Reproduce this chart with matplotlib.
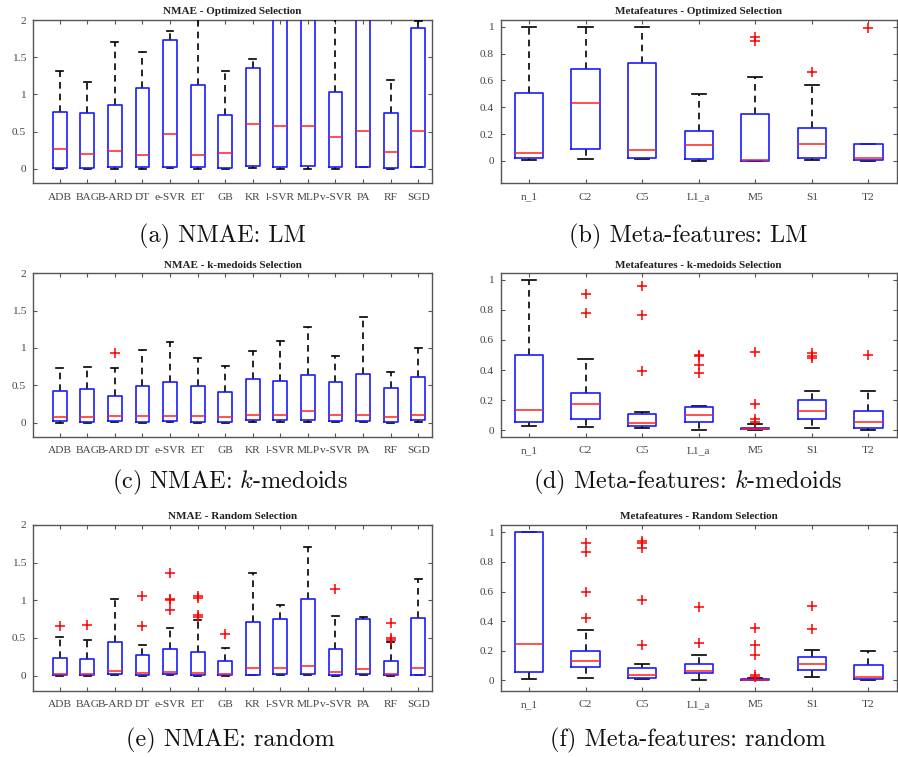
import matplotlib
matplotlib.use("Agg")
import matplotlib.pyplot as plt

plt.rcParams['mathtext.fontset'] = 'cm'

# ---------------- data ----------------
models = ['ADB', 'BAG', 'B-ARD', 'DT', 'e-SVR', 'ET', 'GB', 'KR', 'l-SVR', 'MLP', 'v-SVR', 'PA', 'RF', 'SGD']
metafeats = ['n_1', 'C2', 'C5', 'L1_a', 'M5', 'S1', 'T2']

# (a) NMAE - Optimized Selection
a_q1 = [0.01, 0.01, 0.03, 0.03, 0.02, 0.02, 0.01, 0.04, 0.03, 0.045, 0.03, 0.03, 0.01, 0.03]
a_med = [0.27, 0.20, 0.24, 0.19, 0.47, 0.19, 0.215, 0.60, 0.58, 0.58, 0.425, 0.505, 0.23, 0.505]
a_q3 = [0.77, 0.75, 0.855, 1.09, 1.73, 1.13, 0.73, 1.36, 2.6, 2.6, 1.03, 2.6, 0.755, 1.89]
a_wlo = [0, 0, 0, 0, 0.01, 0, 0, 0.01, 0, 0, 0, 0.02, 0, 0.02]
a_whi = [1.32, 1.17, 1.70, 1.575, 1.85, 2.6, 1.31, 1.47, 3.0, 3.0, 2.6, 3.0, 1.195, 1.99]
a_fl = [[] for _ in models]

# (b) Metafeatures - Optimized Selection
b_q1 = [0.02, 0.092, 0.02, 0.012, 0.0, 0.025, 0.007]
b_med = [0.062, 0.432, 0.082, 0.122, 0.005, 0.129, 0.022]
b_q3 = [0.504, 0.687, 0.727, 0.226, 0.352, 0.248, 0.124]
b_wlo = [0.005, 0.015, 0.015, 0.0, 0.0, 0.007, 0.0]
b_whi = [1.0, 1.0, 1.0, 0.499, 0.628, 0.566, 0.124]
b_fl = [[], [], [], [], [0.896, 0.926], [0.66], [0.993]]

# (c) NMAE - k-medoids Selection
c_q1 = [0.018, 0.005, 0.018, 0.005, 0.018, 0.005, 0.005, 0.031, 0.031, 0.04, 0.018, 0.018, 0.005, 0.04]
c_med = [0.08, 0.08, 0.094, 0.094, 0.094, 0.094, 0.08, 0.107, 0.107, 0.148, 0.107, 0.107, 0.08, 0.107]
c_q3 = [0.416, 0.456, 0.353, 0.488, 0.541, 0.488, 0.403, 0.586, 0.555, 0.635, 0.541, 0.649, 0.461, 0.608]
c_wlo = [0, 0, 0.005, 0, 0.005, 0, 0, 0.005, 0.005, 0.005, 0.005, 0.005, 0, 0.005]
c_whi = [0.734, 0.747, 0.734, 0.97, 1.074, 0.864, 0.756, 0.953, 1.087, 1.275, 0.895, 1.414, 0.676, 1.0]
c_fl = [[], [], [0.935], [], [], [], [], [], [], [], [], [], [], []]

# (d) Metafeatures - k-medoids Selection
d_q1 = [0.056, 0.071, 0.029, 0.056, 0.004, 0.076, 0.016]
d_med = [0.131, 0.171, 0.049, 0.098, 0.009, 0.124, 0.056]
d_q3 = [0.502, 0.244, 0.104, 0.151, 0.016, 0.198, 0.127]
d_wlo = [0.029, 0.022, 0.013, 0.0, 0.0, 0.016, 0.0]
d_whi = [1.0, 0.476, 0.122, 0.158, 0.038, 0.26, 0.26]
d_fl = [[], [0.904, 0.778], [0.962, 0.764, 0.391], [0.502, 0.493, 0.436, 0.378],
        [0.518, 0.171, 0.071, 0.051], [0.511, 0.493, 0.482], [0.502]]

# (e) NMAE - Random Selection
e_q1 = [0.013, 0.013, 0.027, 0.013, 0.027, 0.013, 0.013, 0.013, 0.027, 0.027, 0.013, 0.027, 0.013, 0.013]
e_med = [0.027, 0.027, 0.066, 0.04, 0.053, 0.04, 0.027, 0.106, 0.106, 0.133, 0.049, 0.084, 0.027, 0.106]
e_q3 = [0.239, 0.221, 0.451, 0.279, 0.358, 0.314, 0.19, 0.717, 0.752, 1.018, 0.354, 0.748, 0.195, 0.765]
e_wlo = [0, 0, 0.013, 0, 0.013, 0, 0, 0.013, 0.013, 0.013, 0, 0.013, 0, 0.013]
e_whi = [0.509, 0.478, 1.013, 0.412, 0.628, 0.74, 0.372, 1.367, 0.934, 1.708, 0.792, 0.783, 0.451, 1.288]
e_fl = [[0.664], [0.677], [], [1.053, 0.664], [1.358, 1.022, 1.004, 0.872], [1.058, 1.035, 0.80, 0.78],
        [0.558], [], [], [], [1.155], [], [0.699, 0.50, 0.478], []]

# (f) Metafeatures - Random Selection
f_q1 = [0.056, 0.092, 0.016, 0.05, 0.0, 0.07, 0.007]
f_med = [0.248, 0.133, 0.036, 0.065, 0.002, 0.113, 0.023]
f_q3 = [1.0, 0.2, 0.083, 0.11, 0.009, 0.16, 0.104]
f_wlo = [0.007, 0.014, 0.007, 0.0, 0.0, 0.023, 0.0]
f_whi = [1.0, 0.338, 0.11, 0.169, 0.014, 0.205, 0.2]
f_fl = [[], [0.926, 0.865, 0.599, 0.423], [0.939, 0.930, 0.896, 0.543, 0.241], [0.493, 0.254],
        [0.354, 0.239, 0.171, 0.036, 0.023], [0.502, 0.345], []]

titles = ['NMAE - Optimized Selection', 'Metafeatures - Optimized Selection',
          'NMAE - k-medoids Selection', 'Metafeatures - k-medoids Selection',
          'NMAE - Random Selection', 'Metafeatures - Random Selection']
captions = ['(a) NMAE: LM', '(b) Meta-features: LM',
            '(c) NMAE: $k$-medoids', '(d) Meta-features: $k$-medoids',
            '(e) NMAE: random', '(f) Meta-features: random']
nmae_ticks = [0, 0.5, 1, 1.5, 2]
nmae_ticklabels = ['0', '0.5', '1', '1.5', '2']
meta_ticks = [0, 0.2, 0.4, 0.6, 0.8, 1]
meta_ticklabels = ['0', '0.2', '0.4', '0.6', '0.8', '1']

# ---------------- figure ----------------
W, H = 898, 757
fig = plt.figure(figsize=(W / 100, H / 100), dpi=100)

FRAME = '#555555'
TXT = '#444444'
SERIF = 'Liberation Serif'


def px_axes(l, t, r, b):
    return fig.add_axes([l / W, 1 - b / H, (r - l) / W, (b - t) / H])


panels = [
    (models, a_q1, a_med, a_q3, a_wlo, a_whi, a_fl, (33, 20, 432, 183), (0.03, 14.5), (-0.19, 2.0), 'n'),
    (metafeats, b_q1, b_med, b_q3, b_wlo, b_whi, b_fl, (500.7, 20, 896.7, 183), (0.5, 7.5), (-0.164, 1.05), 'm'),
    (models, c_q1, c_med, c_q3, c_wlo, c_whi, c_fl, (33, 273.3, 432, 436.7), (0.03, 14.5), (-0.19, 2.0), 'n'),
    (metafeats, d_q1, d_med, d_q3, d_wlo, d_whi, d_fl, (500.7, 273.3, 896.7, 436.7), (0.5, 7.5), (-0.044, 1.044), 'm'),
    (models, e_q1, e_med, e_q3, e_wlo, e_whi, e_fl, (33, 525, 432, 690.7), (0.03, 14.5), (-0.2, 2.0), 'n'),
    (metafeats, f_q1, f_med, f_q3, f_wlo, f_whi, f_fl, (500.7, 525, 896.7, 690.7), (0.5, 7.5), (-0.07, 1.05), 'm'),
]
cap_pos = [(222, 236), (688, 236), (230, 482), (688, 482), (230, 740), (688, 740)]

for i, (labels, q1, med, q3, wlo, whi, fl, box, xl, yl, kind) in enumerate(panels):
    ax = px_axes(*box)
    stats = []
    for j, lab in enumerate(labels):
        stats.append(dict(label=lab, q1=q1[j], med=med[j], q3=q3[j],
                          whislo=wlo[j], whishi=whi[j], fliers=fl[j]))
    pos = list(range(1, len(labels) + 1))
    ax.bxp(stats, positions=pos, widths=0.5, capwidths=0.25, showfliers=True,
           boxprops=dict(color='#1a1aff', lw=1.2, zorder=4),
           medianprops=dict(color='#ff2020', lw=1.1, zorder=5),
           whiskerprops=dict(color='black', ls=(0, (4, 3)), lw=1.2, zorder=3),
           capprops=dict(color='black', lw=1.2, zorder=3),
           flierprops=dict(marker='+', markeredgecolor='red', markerfacecolor='none',
                           markersize=7, markeredgewidth=1.1, linestyle='none', zorder=6))
    ax.set_xlim(*xl)
    ax.set_ylim(*yl)
    if kind == 'n':
        ax.set_yticks(nmae_ticks)
        ax.set_yticklabels(nmae_ticklabels)
    else:
        ax.set_yticks(meta_ticks)
        ax.set_yticklabels(meta_ticklabels)
    ax.set_xticks(pos)
    ax.set_xticklabels(labels)
    for lbl in ax.get_xticklabels() + ax.get_yticklabels():
        lbl.set_family(SERIF)
        lbl.set_fontsize(8.2)
        lbl.set_color(TXT)
    ax.tick_params(direction='in', top=True, right=True, length=3, width=0.8,
                   color=FRAME, pad=5)
    ax.tick_params(axis='x', pad=7)
    for s in ax.spines.values():
        s.set_color(FRAME)
        s.set_linewidth(1.0)
    ax.set_title(titles[i], family=SERIF, fontweight='bold', fontsize=8,
                 color='#222222', pad=4)
    cx, cy = cap_pos[i]
    fig.text(cx / W, 1 - cy / H, captions[i], family='cmr10', fontsize=17.5,
             ha='center', va='center', color='#111111')

fig.savefig('out.png', dpi=100)
